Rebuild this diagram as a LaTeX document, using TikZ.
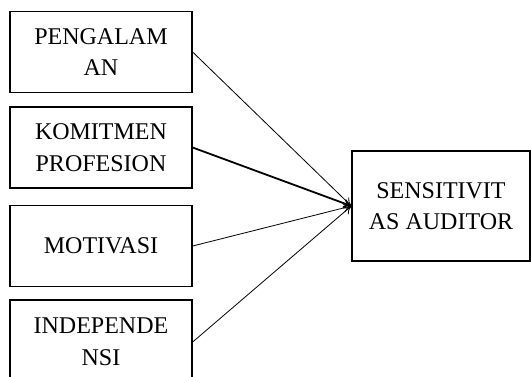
\documentclass[tikz,border=0pt]{standalone}
\usepackage{fontspec}
\setmainfont{Liberation Serif}
\usetikzlibrary{arrows.meta}
\begin{document}
\begin{tikzpicture}[x=1pt,y=-1pt,
  varbox/.style={draw,line width=1.3pt,minimum width=182pt,minimum height=81pt,align=center,inner sep=0pt,font=\fontsize{24}{31.5}\selectfont},
  link/.style={line width=0.8pt,-{To[length=8pt,width=9pt]}},
  thicklink/.style={line width=1.8pt,-{To[length=8pt,width=9pt]}}]
\useasboundingbox (0,0) rectangle (531,376);
\begin{scope}
\clip (0,0) rectangle (531,376);
\node[varbox] (a) at (101,52) {PENGALAM\\AN};
\node[varbox] (b) at (101,147.5) {KOMITMEN\\PROFESION};
\node[varbox] (c) at (101,246) {MOTIVASI};
\node[varbox,minimum height=84pt] (d) at (101,342) {INDEPENDE\\NSI};
\node[varbox,minimum width=178pt,minimum height=110pt] (e) at (441,206) {SENSITIVIT\\AS AUDITOR};
\draw[link] (a.east) -- (e.west);
\draw[link] (c.east) -- (e.west);
\draw[link] (d.east) -- (e.west);
\draw[thicklink] (b.east) -- (e.west);
\end{scope}
\end{tikzpicture}
\end{document}
